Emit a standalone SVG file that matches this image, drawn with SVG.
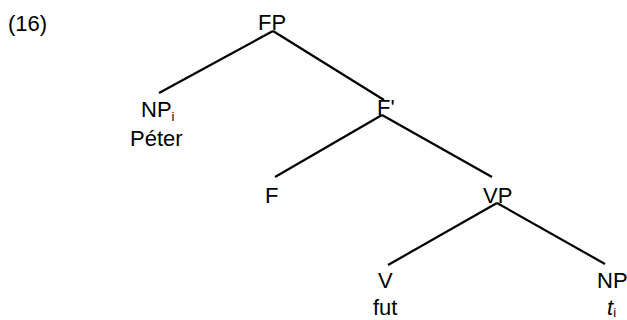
<svg xmlns="http://www.w3.org/2000/svg" width="627" height="320" viewBox="0 0 627 320">
<style>
  text { font-family: "Liberation Sans", Arial, sans-serif; font-size: 22px; fill: #000; }
  .sub { font-size: 13px; }
  .it { font-style: italic; }
  .edge { stroke: #000; stroke-width: 2.2; fill: none; stroke-linecap: butt; }
</style>
<rect width="627" height="320" fill="#fff"/>
<text x="8" y="31">(16)</text>
<g id="connectors">
  <line class="edge" x1="273" y1="31" x2="159" y2="93"/>
  <line class="edge" x1="273" y1="31" x2="384" y2="100"/>
  <line class="edge" x1="382" y1="115" x2="275" y2="177"/>
  <line class="edge" x1="382" y1="115" x2="492" y2="177"/>
  <line class="edge" x1="497" y1="203" x2="388" y2="265"/>
  <line class="edge" x1="497" y1="203" x2="605" y2="264"/>
</g>
<g id="node-FP"><text x="258" y="30">FP</text></g>
<g id="node-NPi"><text x="141" y="117">NP<tspan class="sub" dy="4">i</tspan></text><text x="130" y="146">Péter</text></g>
<g id="node-Fbar"><text x="377" y="115">F'</text></g>
<g id="node-F"><text x="265" y="203">F</text></g>
<g id="node-VP"><text x="483" y="203">VP</text></g>
<g id="node-V"><text x="378" y="288">V</text><text x="373" y="315">fut</text></g>
<g id="node-NP"><text x="597" y="288">NP</text><text x="607" y="315" class="it">t<tspan class="sub" dy="2" font-style="normal">i</tspan></text></g>
</svg>
